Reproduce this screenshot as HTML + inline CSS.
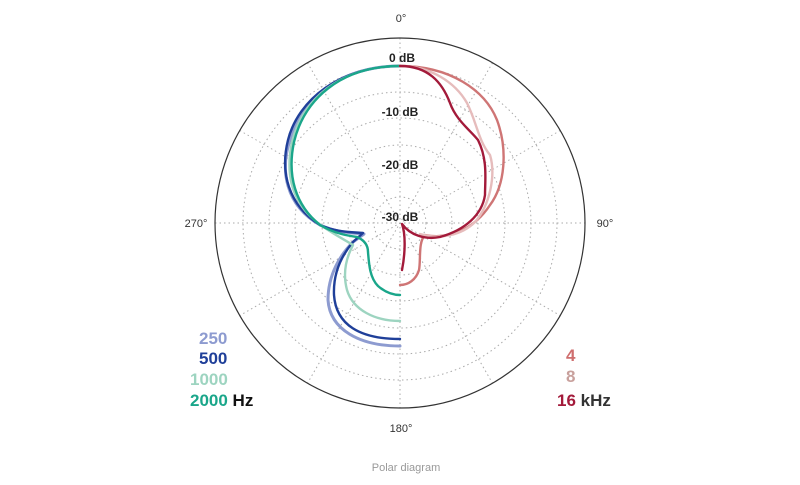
<!DOCTYPE html>
<html><head><meta charset="utf-8"><style>
html,body{margin:0;padding:0;background:#fff;}
svg{display:block;font-family:"Liberation Sans",sans-serif;}
</style></head><body>
<svg width="800" height="485" viewBox="0 0 800 485">
<g fill="none" stroke="#aaa" stroke-width="1" stroke-dasharray="1.5 3">
<circle cx="400" cy="223" r="26"/><circle cx="400" cy="223" r="52"/><circle cx="400" cy="223" r="78"/>
<circle cx="400" cy="223" r="105"/><circle cx="400" cy="223" r="131"/><circle cx="400" cy="223" r="157"/>
<line x1="400" y1="38" x2="400" y2="408"/><line x1="215" y1="223" x2="585" y2="223"/>
<line x1="307.5" y1="62.8" x2="492.5" y2="383.2"/><line x1="492.5" y1="62.8" x2="307.5" y2="383.2"/>
<line x1="239.8" y1="130.5" x2="560.2" y2="315.5"/><line x1="560.2" y1="130.5" x2="239.8" y2="315.5"/>
</g>
<circle cx="400" cy="223" r="185" fill="none" stroke="#333" stroke-width="1.2"/>
<g font-size="12" font-weight="bold" fill="#222" text-anchor="middle">
<text x="402" y="62">0 dB</text><text x="400" y="116">-10 dB</text><text x="400" y="169">-20 dB</text><text x="400" y="221">-30 dB</text>
</g>
<g font-size="11" fill="#333" text-anchor="middle">
<text x="401" y="22">0°</text><text x="605" y="227">90°</text><text x="401" y="432">180°</text><text x="196" y="227">270°</text>
</g>
<g fill="none" stroke-width="2.4" stroke-linejoin="round" stroke-linecap="round">
<path stroke="#8d9bd0" stroke-width="3" d="M400,66 C340,66 300,100 290,140 C280,170 285,205 320,225 C335,232 350,233 364,234 L353,242 C340,255 328,275 328,300 C330,330 360,346 400,346"/>
<path stroke="#1f3f99" d="M400,66 C340,66 298,100 288,140 C280,172 288,205 320,225 C335,232 350,232 363,233 L353,242 C342,255 333,272 334,295 C336,325 360,339 400,339"/>
<path stroke="#9dd4c0" d="M400,66 C340,66 302,100 292,142 C285,175 292,205 322,226 C335,235 345,240 353,245 C345,260 343,275 347,290 C353,310 375,321 400,321"/>
<path stroke="#1aa68a" d="M400,66 C340,66 304,100 294,142 C287,175 295,205 320,225 C335,234 350,236 357,237 C364,240 368,245 368,252 C369,265 370,278 378,286 C386,293 393,295 400,295"/>
<path stroke="#cf7575" d="M400,66 C450,66 485,90 497,120 C508,150 505,185 490,205 C475,228 450,240 425,235 C418,242 421,260 419,270 C416,280 408,285 400,285"/>
<path stroke="#e6bcbc" d="M400,66 C430,66 455,82 467,103 C477,123 478,140 490,155 C496,175 490,205 475,222 C462,235 440,240 420,234"/>
<path stroke="#a31a3a" d="M400,66 C428,66 442,82 450,103 C456,120 470,130 478,140 C488,160 485,180 485,195 C482,215 465,230 440,237 C425,240 410,235 402,224 C406,235 405,255 402,270"/>
</g>
<g font-size="17" font-weight="bold">
<text x="199" y="344" fill="#8d9bd0">250</text>
<text x="199" y="364" fill="#1f3f99">500</text>
<text x="190" y="385" fill="#9dd4c0">1000</text>
<text x="190" y="406" fill="#1aa68a">2000 <tspan fill="#111">Hz</tspan></text>
<text x="566" y="361" fill="#cf6e6e">4</text>
<text x="566" y="382" fill="#c8a09c">8</text>
<text x="557" y="406" fill="#a31a3a">16 <tspan fill="#333">kHz</tspan></text>
</g>
<text x="406" y="471" font-size="11" fill="#999" text-anchor="middle">Polar diagram</text>
</svg>
</body></html>
